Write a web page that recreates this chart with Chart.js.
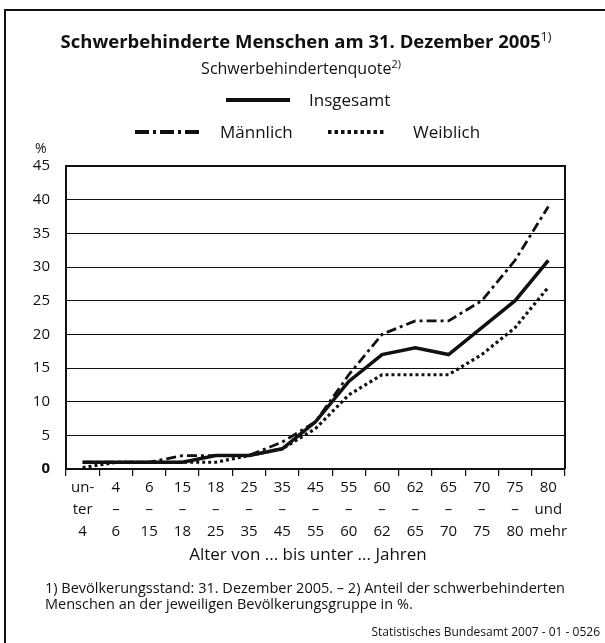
<!DOCTYPE html>
<html>
<head>
<meta charset="utf-8">
<script src="https://cdn.jsdelivr.net/npm/chart.js@4.4.1/dist/chart.umd.min.js"></script>
<style>
  html, body { margin: 0; padding: 0; background: #fff; }
  body { width: 605px; height: 643px; position: relative; overflow: hidden; font-family: "Open Sans", sans-serif; color: #111; }
  #frame { position: absolute; left: 4px; top: 9px; width: 640px; height: 680px; border-top: 2px solid #111; border-left: 2px solid #111; }
  .t { position: absolute; white-space: nowrap; line-height: 1; }
  sup { font-size: 0.68em; vertical-align: 0; position: relative; top: -0.55em; font-weight: normal; }
  #chartwrap { position: absolute; left: 0; top: 0; width: 605px; height: 643px; }
</style>
</head>
<body>
<div id="frame"></div>
<div id="chartwrap"><canvas id="c" width="605" height="643"></canvas></div>

<div class="t" id="title" style="left:0;width:612px;text-align:center;top:32px;font-size:18.5px;font-weight:bold;">Schwerbehinderte Menschen am 31. Dezember 2005<sup>1)</sup></div>
<div class="t" id="subtitle" style="left:0;width:602px;text-align:center;top:60px;font-size:16px;">Schwerbehindertenquote<sup>2)</sup></div>

<svg style="position:absolute;left:0;top:0" width="605" height="160">
  <line x1="226" y1="100" x2="290" y2="100" stroke="#111" stroke-width="4"/>
  <line x1="135" y1="132" x2="200" y2="132" stroke="#111" stroke-width="4" stroke-dasharray="14,4,3,4"/>
  <line x1="328" y1="132" x2="386" y2="132" stroke="#111" stroke-width="4" stroke-dasharray="3.5,3"/>
</svg>
<div class="t" style="left:309px;top:91px;font-size:17px;">Insgesamt</div>
<div class="t" style="left:220px;top:123px;font-size:17px;">Männlich</div>
<div class="t" style="left:413px;top:123px;font-size:17px;">Weiblich</div>
<div class="t" style="left:35px;top:141px;font-size:14px;">%</div>

<div class="t" id="xtitle" style="left:0;width:616px;text-align:center;top:545px;font-size:17px;">Alter von ... bis unter ... Jahren</div>
<div class="t" style="left:45px;top:581px;font-size:14.5px;">1) Bevölkerungsstand: 31. Dezember 2005. – 2) Anteil der schwerbehinderten</div>
<div class="t" style="left:45px;top:597px;font-size:14.5px;">Menschen an der jeweiligen Bevölkerungsgruppe in %.</div>
<div class="t" style="right:5px;top:626px;font-size:12px;">Statistisches Bundesamt 2007 - 01 - 0526</div>

<script>
// ---- data ----
const categories = [
  ["un-", "ter", "4"], ["4", "–", "6"], ["6", "–", "15"], ["15", "–", "18"], ["18", "–", "25"],
  ["25", "–", "35"], ["35", "–", "45"], ["45", "–", "55"], ["55", "–", "60"], ["60", "–", "62"],
  ["62", "–", "65"], ["65", "–", "70"], ["70", "–", "75"], ["75", "–", "80"], ["80", "und", "mehr"]
];
const insgesamt = [1, 1, 1, 1, 2, 2, 3, 7, 13, 17, 18, 17, 21, 25, 31];
const maennlich = [1, 1, 1, 2, 2, 2, 4, 7, 14, 20, 22, 22, 25, 31, 39];
const weiblich  = [0.2, 1, 1, 1, 1, 2, 3, 6, 11, 14, 14, 14, 17, 21, 27];
const yTicks = [0, 5, 10, 15, 20, 25, 30, 35, 40, 45];

const ink = "#111";

const framePlugin = {
  id: "frame",
  afterDraw(chart) {
    const a = chart.chartArea, ctx = chart.ctx;
    ctx.save();
    ctx.strokeStyle = ink;
    ctx.lineWidth = 2;
    ctx.beginPath();
    ctx.moveTo(a.left, a.bottom);
    ctx.lineTo(a.left, a.top);
    ctx.lineTo(a.right, a.top);
    ctx.lineTo(a.right, a.bottom);
    ctx.stroke();
    ctx.restore();
  }
};

new Chart(document.getElementById("c"), {
  type: "line",
  data: {
    labels: categories,
    datasets: [
      { label: "Insgesamt", data: insgesamt, borderColor: ink, borderWidth: 3.5, pointRadius: 0, tension: 0, fill: false, order: 1 },
      { label: "Männlich", data: maennlich, borderColor: ink, borderWidth: 2.8, borderDash: [10, 4, 3, 4], pointRadius: 0, tension: 0, fill: false, order: 2 },
      { label: "Weiblich", data: weiblich, borderColor: ink, borderWidth: 3.2, borderDash: [3, 3], pointRadius: 0, tension: 0, fill: false, order: 3 }
    ]
  },
  options: {
    responsive: false,
    animation: false,
    devicePixelRatio: 1,
    layout: { padding: { left: 0, right: 40, top: 166, bottom: 0 } },
    plugins: { legend: { display: false }, tooltip: { enabled: false } },
    scales: {
      x: {
        offset: true,
        grid: { display: true, offset: true, drawOnChartArea: false, drawTicks: true, tickLength: 7, color: ink, lineWidth: 1.2 },
        border: { display: true, color: ink, width: 1.5 },
        ticks: { color: ink, font: { family: "Open Sans", size: 15, lineHeight: 1.45 }, padding: 1, maxRotation: 0, autoSkip: false },
        afterFit(scale) { scale.height = 174; }
      },
      y: {
        min: 0, max: 45,
        afterBuildTicks(scale) { scale.ticks = yTicks.map(v => ({ value: v })); },
        grid: { color: ink, lineWidth: 1, drawTicks: false },
        border: { display: true, color: ink, width: 2 },
        ticks: {
          color: ink,
          font: (ctx) => ({ family: "Open Sans", size: 15, weight: (ctx.tick && ctx.tick.value === 0) ? "bold" : "normal" }),
          padding: 16
        },
        afterFit(scale) { scale.width = 66; }
      }
    }
  },
  plugins: [framePlugin]
});
</script>
</body>
</html>
